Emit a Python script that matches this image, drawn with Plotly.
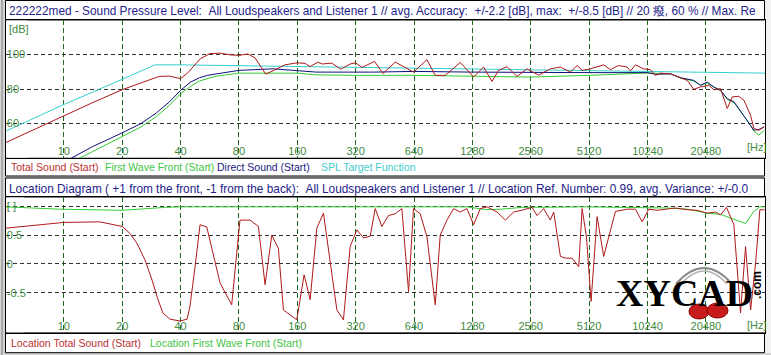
import math
import plotly.graph_objects as go

# ---------------- data (top panel: SPL, dB) ----------------
total_f = [5.03, 7.5, 10, 14, 20, 24.7, 31, 35, 40, 43.7, 50.5, 56.7, 63.7, 72, 80, 89, 97, 105, 110,
           122, 138, 160, 176, 186, 204, 215, 241, 268, 300, 320, 345, 400, 443, 512, 636, 746, 824,
           927, 1109, 1298, 1462, 1616, 1748, 1930, 2175, 2450, 2814, 3232, 3641, 4099, 4440, 4712,
           5199, 6088, 6595, 7256, 8045, 8366, 8877, 9763, 10610, 11261, 11950, 13456, 14805, 16417,
           17756, 19230, 21220, 22522, 24392, 26420, 28038, 30310, 32180, 34860, 36230, 38460, 40820]
total_db = [49.0, 58.0, 64.8, 72.0, 79.6, 83.4, 87.3, 87.5, 86.0, 89.5, 97.5, 100.5, 100.8, 99.8, 99.5,
            100.3, 98.0, 92.0, 88.6, 91.0, 94.0, 95.2, 94.8, 93.0, 95.5, 94.5, 95.0, 91.5, 94.5, 95.2,
            92.5, 96.0, 89.0, 95.6, 89.8, 97.0, 87.9, 87.9, 95.4, 87.0, 92.7, 84.4, 90.8, 93.0, 87.3,
            91.7, 88.0, 91.7, 92.7, 89.8, 93.6, 90.8, 91.7, 94.0, 91.2, 93.6, 92.7, 90.4, 94.0, 91.7,
            91.2, 87.9, 89.2, 88.8, 86.9, 85.0, 79.8, 81.2, 82.1, 79.6, 80.2, 68.7, 75.4, 75.8, 73.5,
            64.8, 57.1, 56.1, 58.0]

first_f = [12.1, 20, 25, 30, 35, 40, 45, 50, 60, 80, 160, 200, 320, 640, 1280, 2560, 5120, 7000, 10240,
           13456, 15200, 17756, 19230, 20800, 22522, 24392, 26420, 28650, 31560, 34160, 36230, 38460, 41000]
first_db = [40.0, 52.3, 58.0, 64.0, 70.5, 77.3, 81.5, 84.6, 87.3, 89.2, 89.2, 88.2, 87.9, 87.9, 87.6,
            86.9, 87.9, 88.5, 89.3, 88.8, 86.3, 84.6, 82.3, 83.5, 81.0, 79.0, 74.0, 72.0, 65.5, 60.5,
            55.5, 53.3, 56.0]

direct_f = [10.96, 14, 20, 25, 30, 35, 40, 45, 50, 55, 60, 80, 120, 160, 200, 400, 640, 1280, 2560,
            5120, 10240, 11261, 13456, 15200, 17756, 19230, 20800, 22522, 24392, 26420, 28650, 31560,
            34160, 36230, 38460, 41000]
direct_db = [40.0, 46.5, 54.6, 60.0, 66.1, 72.5, 79.2, 84.0, 86.5, 87.9, 88.6, 90.8, 91.7, 90.8, 89.8,
             89.8, 90.2, 89.8, 89.5, 89.5, 89.5, 88.5, 88.8, 86.5, 85.0, 82.1, 84.0, 81.2, 79.2, 74.4,
             72.5, 65.8, 60.9, 56.1, 56.5, 58.0]

target_f = [5.03, 10, 20, 29.5, 40, 80, 160, 640, 2560, 10240, 41360]
target_db = [55.6, 71.0, 85.6, 94.0, 94.0, 93.5, 92.8, 92.0, 91.0, 90.2, 89.2]

# ---------------- data (bottom panel: location) ----------------
loc_total_f = [5.03, 10, 15.3, 20, 21.9, 23.8, 26.2, 28.5, 30.6, 32.4, 35.3, 39.7, 43.2, 44.7, 47.5,
               50.4, 54.6, 63.9, 73.4, 79.4, 81, 91.3, 100.8, 109.1, 118.2, 127.8, 135.7, 159, 173.5,
               186.4, 201.8, 218.3, 256, 276.8, 299.8, 324.7, 351.2, 380.3, 403.6, 437, 472.8, 512,
               554, 599.7, 636, 688.7, 745.9, 823.6, 873.7, 946.3, 1024.3, 1108, 1200, 1298.8, 1406.8,
               1522, 1715, 1893, 2090, 2353, 2600, 2759, 2985, 3232, 3362, 3641, 3862, 4183, 4526,
               4712, 4960, 5242, 5631, 6088, 7000, 8045, 8877, 9615, 10400, 11490, 12940, 14285,
               16417, 18495, 20820, 22990, 24392, 26200, 28570, 30930, 32830, 34860, 36980, 38910, 41160]
loc_total_v = [0.62, 0.72, 0.73, 0.65, 0.53, 0.36, 0.07, -0.28, -0.62, -0.85, -0.96, -0.99, -0.96,
               -0.74, -0.05, 0.68, 0.64, -0.33, -0.71, 0.45, 0.76, 0.76, 0.65, -0.36, 0.50, 0.27,
               -0.80, -0.97, -0.19, -0.62, 0.62, 0.88, -0.80, -0.97, 0.30, 0.59, 0.45, 0.48, 0.96,
               0.65, 0.84, 0.87, 0.96, -0.48, 0.96, 0.87, 0.47, -0.71, 0.50, 0.76, 0.96, 0.90, 0.96,
               0.68, 0.96, 0.99, 0.90, 0.76, 0.90, 0.94, 0.98, 0.84, 0.96, 0.76, 0.90, 0.13, 0.10,
               0.10, -0.05, 0.96, 0.47, -0.65, 0.82, 0.13, 0.91, 0.95, 0.95, 0.73, 0.95, 0.93, 0.95,
               0.97, 0.94, 0.93, 0.88, 0.90, 0.85, 0.98, 0.68, -0.85, 0.30, -0.80, 0.01, 0.94, 0.94]

loc_first_f = [5.03, 9.4, 13.8, 20, 33, 40, 1200, 1522, 1800, 2300, 5000, 8045, 12940, 16417, 20820,
               24392, 26420, 32830, 36000, 38900, 41160]
loc_first_v = [0.99, 0.95, 0.94, 0.93, 0.98, 0.99, 0.99, 0.94, 0.95, 0.98, 0.99, 0.98, 0.97, 0.95,
               0.88, 0.86, 0.82, 0.70, 0.90, 0.99, 0.99]

x_tick_vals = [10, 20, 40, 80, 160, 320, 640, 1280, 2560, 5120, 10240, 20480]
x_tick_text = [str(v) for v in x_tick_vals]
db_tick_vals = [60, 80, 100]
loc_tick_vals = [-0.5, 0, 0.5, 1]
loc_tick_text = ["-0.5", "0", "0.5", "[ ]"]

# ---------------- styling ----------------
W, H = 771, 355
def px(x):
    return x / W
def py(y):
    return 1 - y / H

RED = "#b01818"
GREEN = "#33cc33"
NAVY = "#10107a"
CYAN = "#33d0d0"
TXT_BLUE = "#24248a"
TICK_GREEN = "#3f8a3f"
GRID_V = "#1d6a1d"
GRID_H = "#333333"
FONT = "Liberation Sans, Arial, sans-serif"

fig = go.Figure()
fig.add_trace(go.Scatter(x=target_f, y=target_db, mode="lines", line=dict(color=CYAN, width=1), xaxis="x", yaxis="y"))
fig.add_trace(go.Scatter(x=first_f, y=first_db, mode="lines", line=dict(color=GREEN, width=1), xaxis="x", yaxis="y"))
fig.add_trace(go.Scatter(x=direct_f, y=direct_db, mode="lines", line=dict(color=NAVY, width=1), xaxis="x", yaxis="y"))
fig.add_trace(go.Scatter(x=total_f, y=total_db, mode="lines", line=dict(color=RED, width=1), xaxis="x", yaxis="y"))
fig.add_trace(go.Scatter(x=loc_first_f, y=loc_first_v, mode="lines", line=dict(color=GREEN, width=1), xaxis="x2", yaxis="y2"))
fig.add_trace(go.Scatter(x=loc_total_f, y=loc_total_v, mode="lines", line=dict(color=RED, width=1), xaxis="x2", yaxis="y2"))

xdom = [px(6), px(765)]
xrange = [math.log10(5.03), math.log10(41360)]
top_dom = [py(158), py(20)]
bot_dom = [py(332.7), py(197)]

def xaxis_cfg(anchor):
    return dict(type="log", domain=xdom, range=xrange, anchor=anchor,
                tickmode="array", tickvals=x_tick_vals, ticktext=x_tick_text,
                ticklabelposition="inside", ticks="", showgrid=True, gridcolor=GRID_V,
                griddash="5px,3px", gridwidth=1, zeroline=False, showline=True,
                linecolor="black", linewidth=1, mirror=True,
                tickfont=dict(family=FONT, size=11, color=TICK_GREEN), fixedrange=True)

def yaxis_cfg(anchor, dom, rng, vals, text=None):
    d = dict(domain=dom, range=rng, anchor=anchor, tickmode="array", tickvals=vals,
             ticklabelposition="inside", ticks="", showgrid=True, gridcolor=GRID_H,
             griddash="4px,3px", gridwidth=1, zeroline=False, showline=True,
             linecolor="black", linewidth=1, mirror=True,
             tickfont=dict(family=FONT, size=11, color=TICK_GREEN), fixedrange=True)
    if text is not None:
        d["ticktext"] = text
    return d

shapes = []
def rect(x0, y0, x1, y1, fill="white", line="black", layer="below", lw=1):
    shapes.append(dict(type="rect", xref="paper", yref="paper", x0=px(x0), x1=px(x1),
                       y0=py(y1), y1=py(y0), fillcolor=fill,
                       line=dict(color=line, width=lw), layer=layer))

# frame
rect(765, 0, 771, 353, fill="#f2f2f2", line="#f2f2f2", lw=0)
shapes.append(dict(type="line", xref="paper", yref="paper", x0=px(2), x1=px(2), y0=0, y1=1,
                   line=dict(color="#808080", width=1), layer="below"))
rect(5.5, 0.5, 764.5, 20, fill="white")
rect(5.5, 158, 764.5, 176, fill="white")
rect(5.5, 178, 764.5, 197, fill="white")
rect(5.5, 332.7, 764.5, 352.7, fill="white")
# label strips that hide gridlines behind the inside tick labels
for (y0, y1) in [(141, 157.5), (318, 332.2)]:
    shapes.append(dict(type="rect", xref="paper", yref="paper", x0=px(6.5), x1=px(764.5),
                       y0=py(y1), y1=py(y0), fillcolor="white", line=dict(width=0), layer="between"))
for (y0, y1, xr) in [(20.5, 157.5, 27), (197.5, 332.2, 24)]:
    shapes.append(dict(type="rect", xref="paper", yref="paper", x0=px(6.5), x1=px(xr),
                       y0=py(y1), y1=py(y0), fillcolor="white", line=dict(width=0), layer="between"))

# watermark decorations
shapes.append(dict(type="path", xref="paper", yref="paper",
                   path=f"M {px(676)},{py(284)} Q {px(704)},{py(252)} {px(732)},{py(284)}",
                   line=dict(color="#8a8a8a", width=2), layer="above"))
shapes.append(dict(type="path", xref="paper", yref="paper",
                   path=f"M {px(681)},{py(284)} Q {px(704)},{py(258)} {px(727)},{py(284)}",
                   line=dict(color="#b0b0b0", width=1.5), layer="above"))
shapes.append(dict(type="circle", xref="paper", yref="paper", x0=px(689), x1=px(709),
                   y0=py(319), y1=py(304), fillcolor="#c81c1c", line=dict(color="#8a0000", width=1), layer="above"))
shapes.append(dict(type="circle", xref="paper", yref="paper", x0=px(707), x1=px(728),
                   y0=py(318), y1=py(303), fillcolor="#c81c1c", line=dict(color="#8a0000", width=1), layer="above"))

ann = []
def text(x, y, s, color, size, anchor="left", family=FONT, angle=0, yanchor="middle"):
    ann.append(dict(xref="paper", yref="paper", x=px(x), y=py(y), text=s, showarrow=False,
                    xanchor=anchor, yanchor=yanchor, font=dict(family=family, size=size, color=color),
                    align="left", textangle=angle))

NB = "\u00a0"
title1 = ("222222med - Sound Pressure Level:" + NB + NB + "All Loudspeakers and Listener 1 // avg. Accuracy:"
          + NB + NB + "+/-2.2 [dB], max:" + NB + NB + "+/-8.5 [dB] // 20 癈, 60 % // Max. Re")
title2 = ("Location Diagram ( +1 from the front, -1 from the back):" + NB + NB
          + "All Loudspeakers and Listener 1 // Location Ref. Number: 0.99, avg. Variance: +/-0.0")
text(6.5, 11, title1, TXT_BLUE, 11.85)
text(6.5, 189.5, title2, TXT_BLUE, 11.85)

text(9, 167, "Total Sound (Start)", "#bb3030", 10.5)
text(103, 167, "First Wave Front (Start)", "#44c444", 10.5)
text(215, 167, "Direct Sound (Start)", "#20207e", 10.5)
text(319, 167, "SPL Target Function", "#44cccc", 10.5)
text(9, 342.5, "Location Total Sound (Start)", "#bb3030", 10.5)
text(148, 342.5, "Location First Wave Front (Start)", "#44c444", 10.5)

text(7, 29, "[dB]", TICK_GREEN, 11)
text(757, 147, "[Hz]", TICK_GREEN, 11, anchor="center")
text(757, 325, "[Hz]", TICK_GREEN, 11, anchor="center")

text(684, 293, "<b>XYCAD</b>", "black", 38, anchor="center", family="Liberation Serif, serif")
text(757, 285, "<b>.com</b>", "black", 12, anchor="center", angle=-90)

fig.update_layout(
    width=W, height=H, margin=dict(l=0, r=0, t=0, b=0), autosize=False,
    paper_bgcolor="#d4d4d4", plot_bgcolor="white", showlegend=False,
    xaxis=xaxis_cfg("y"),
    yaxis=yaxis_cfg("x", top_dom, [40, 120], db_tick_vals),
    xaxis2=xaxis_cfg("y2"),
    yaxis2=yaxis_cfg("x2", bot_dom, [-1.194, 1.161], loc_tick_vals, loc_tick_text),
    shapes=shapes, annotations=ann,
)

fig.write_html("out.html", config={"displayModeBar": False})
